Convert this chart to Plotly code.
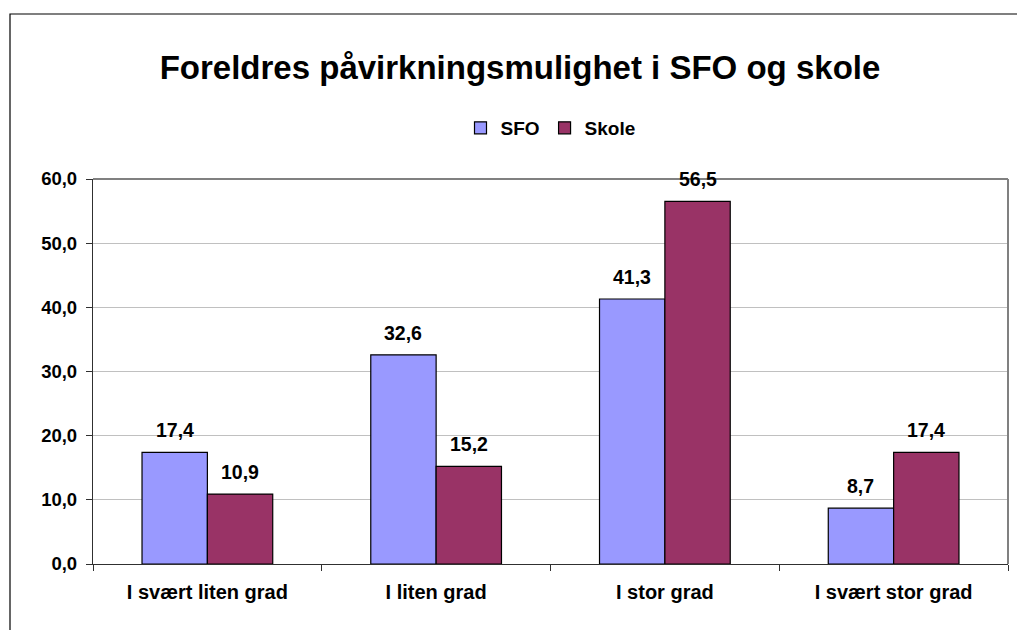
import plotly.graph_objects as go

categories = ["I svært liten grad", "I liten grad", "I stor grad", "I svært stor grad"]
sfo = [17.4, 32.6, 41.3, 8.7]
skole = [10.9, 15.2, 56.5, 17.4]
series_names = ["SFO", "Skole"]
colors = ["#9999FF", "#993366"]

W, H = 1017, 630
L, R, T, B = 93, 9, 179, 66
pw, ph = W - L - R, H - T - B

font = "Liberation Sans, Arial, sans-serif"
bar_half = 32.7  # half bar width in px (label offset)

fig = go.Figure()
for name, vals, col in zip(series_names, [sfo, skole], colors):
    fig.add_trace(go.Bar(
        x=categories, y=vals, name=name,
        marker=dict(color=col, line=dict(color="black", width=1.2)),
        cliponaxis=False,
    ))

annotations = []
for vals, sh in zip([sfo, skole], [-bar_half, bar_half]):
    for c, v in zip(categories, vals):
        annotations.append(dict(
            x=c, y=v, xref="x", yref="y", xshift=sh, yshift=9,
            text=f"<b>{v:.1f}</b>".replace(".", ","), showarrow=False,
            yanchor="bottom", xanchor="center",
            font=dict(family=font, size=19.5, color="black"),
        ))

fig.update_layout(
    width=W, height=H,
    margin=dict(l=L, r=R, t=T, b=B, autoexpand=False),
    paper_bgcolor="white", plot_bgcolor="white",
    barmode="group", bargap=0.4286, bargroupgap=0,
    separators=",.",
    font=dict(family=font, size=17, color="black"),
    title=dict(text="<b>Foreldres påvirkningsmulighet i SFO og skole</b>",
               x=520 / W, xanchor="center", y=1 - 67 / H, yanchor="middle",
               font=dict(family=font, size=33, color="black")),
    legend=dict(orientation="h", x=0.5, xanchor="center",
                y=(H - B - 128) / ph, yanchor="middle",
                font=dict(family=font, size=19, color="black", weight="bold"),
                itemwidth=30, tracegroupgap=0, bgcolor="rgba(0,0,0,0)"),
    showlegend=True,
    annotations=annotations,
)

fig.update_yaxes(range=[0, 60], dtick=10, tickformat=".1f",
                 showgrid=True, gridcolor="#C0C0C0", gridwidth=1,
                 showline=True, linecolor="#303030", linewidth=1.3,
                 ticks="outside", ticklen=6, tickcolor="#303030",
                 ticklabelstandoff=5,
                 tickfont=dict(family=font, size=18.5, color="black", weight="bold"),
                 zeroline=False, mirror=False)
fig.update_xaxes(showline=True, linecolor="#303030", linewidth=1.3,
                 ticks="outside", ticklen=6, tickcolor="#303030", tickson="boundaries",
                 ticklabelstandoff=10,
                 tickfont=dict(family=font, size=20, color="black", weight="bold"),
                 showgrid=False)

# plot area gray border top and right
fig.add_shape(type="line", xref="paper", yref="paper", x0=0, x1=1, y0=1, y1=1,
              line=dict(color="#808080", width=2))
fig.add_shape(type="line", xref="paper", yref="paper", x0=1, x1=1, y0=0, y1=1,
              line=dict(color="#808080", width=2))

# outer chart frame (cut off at right/bottom)
fig.add_shape(type="rect", xref="paper", yref="paper",
              x0=(10 - L) / pw, x1=(W + 20 - L) / pw,
              y0=-(B + 20) / ph, y1=(H - B - 14) / ph,
              line=dict(color="black", width=1.2), fillcolor="rgba(0,0,0,0)", layer="below")

fig.write_html("out.html",
               config={"displayModeBar": False},
               post_script="document.body.style.margin='0px';document.body.style.overflow='hidden';")
